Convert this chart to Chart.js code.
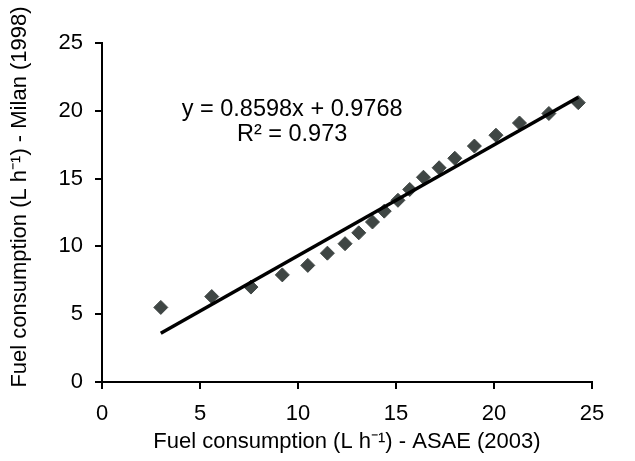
<!DOCTYPE html>
<html><head><meta charset="utf-8">
<script src="https://cdn.jsdelivr.net/npm/chart.js@4/dist/chart.umd.min.js"></script>
<style>html,body{margin:0;padding:0;background:#fff;} #wrap{width:635px;height:461px;position:relative;}</style>
</head><body><div id="wrap"><canvas id="c"></canvas></div>
<script>
// Data
const asaeX  = [3.0, 5.6, 7.6, 9.2, 10.5, 11.5, 12.4, 13.1, 13.8, 14.4, 15.1, 15.7, 16.4, 17.2, 18.0, 19.0, 20.1, 21.3, 22.8, 24.3];
const milanY = [5.5, 6.3, 7.0, 7.9, 8.6, 9.5, 10.2, 11.0, 11.8, 12.6, 13.4, 14.2, 15.1, 15.8, 16.5, 17.4, 18.2, 19.1, 19.8, 20.6];
const trendX = [3.0, 24.3];
const trendY = [3.6, 21.0];
const xTickValues = [0, 5, 10, 15, 20, 25];
const yTickValues = [0, 5, 10, 15, 20, 25];
const equationLines = ['y = 0.8598x + 0.9768', 'R² = 0.973'];
const equationAnchor = [9.7, 20.1];
const xTitle = 'Fuel consumption (L h⁻¹) - ASAE (2003)';
const yTitle = 'Fuel consumption (L h⁻¹) - Milan (1998)';

const FONT = '"Liberation Sans", Arial, sans-serif';

const textPlugin = {
  id: 'texts',
  afterDraw(chart) {
    const {ctx, scales, chartArea} = chart;
    ctx.save();
    ctx.fillStyle = '#000';
    ctx.textAlign = 'center';
    ctx.textBaseline = 'middle';
    ctx.font = '23.5px ' + FONT;
    const ex = scales.x.getPixelForValue(equationAnchor[0]);
    const ey = scales.y.getPixelForValue(equationAnchor[1]);
    equationLines.forEach((t, i) => ctx.fillText(t, ex, ey + i * 25));
    ctx.font = '22px ' + FONT;
    ctx.fillText(xTitle, (chartArea.left + chartArea.right) / 2, 442);
    ctx.translate(20, 197);
    ctx.rotate(-Math.PI / 2);
    ctx.fillText(yTitle, 0, 0);
    ctx.restore();
  }
};

const axisCommon = {
  type: 'linear', min: 0, max: 25,
  grid: {display: true, drawOnChartArea: false, drawTicks: true, tickLength: 7, color: '#000', lineWidth: 2},
  border: {display: true, color: '#000', width: 2},
  ticks: {color: '#000', font: {size: 22, family: FONT}, padding: 12, maxRotation: 0, autoSkip: false},
};

new Chart(document.getElementById('c'), {
  data: {
    datasets: [
      {
        type: 'line',
        data: trendX.map((x, i) => ({x, y: trendY[i]})),
        borderColor: '#000', borderWidth: 3.5, pointRadius: 0, fill: false, order: 0
      },
      {
        type: 'scatter',
        data: asaeX.map((x, i) => ({x, y: milanY[i]})),
        pointStyle: 'rectRot', pointRadius: 7, pointBackgroundColor: '#3f4644',
        pointBorderColor: '#3f4644', pointBorderWidth: 1, order: 1
      }
    ]
  },
  options: {
    responsive: true, maintainAspectRatio: false, animation: false, devicePixelRatio: 1,
    layout: {padding: {left: 0, top: 43, right: 43, bottom: 0}},
    plugins: {legend: {display: false}, tooltip: {enabled: false}},
    scales: {
      x: Object.assign({}, axisCommon, {
        afterBuildTicks: s => { s.ticks = xTickValues.map(v => ({value: v})); },
        afterFit: s => { s.height = 79; }
      }),
      y: Object.assign({}, axisCommon, {
        afterBuildTicks: s => { s.ticks = yTickValues.map(v => ({value: v})); },
        afterFit: s => { s.width = 102; }
      })
    }
  },
  plugins: [textPlugin]
});
</script>
</body></html>
